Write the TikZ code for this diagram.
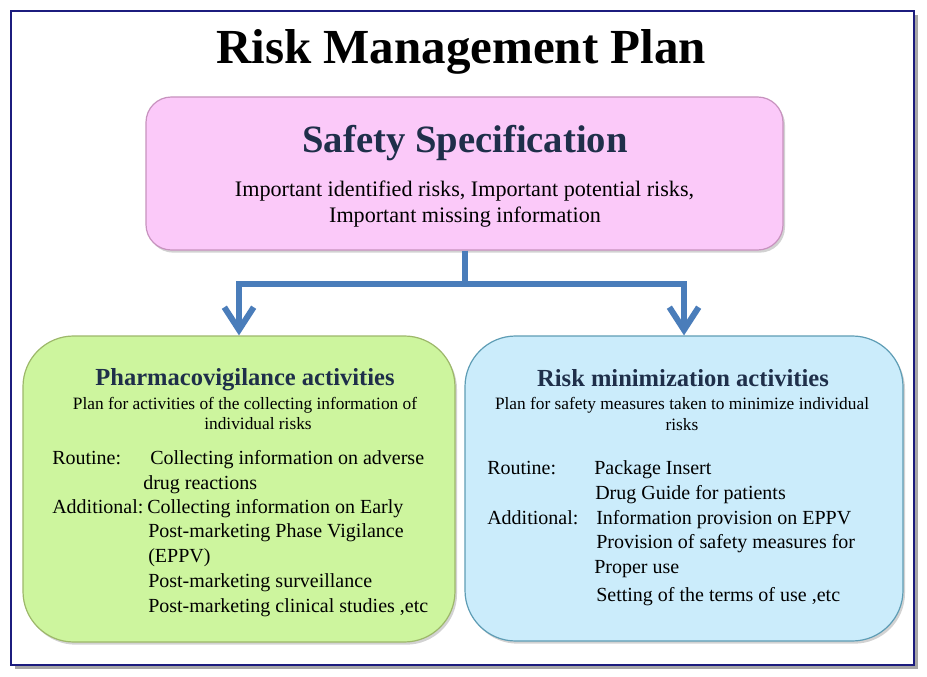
\documentclass[tikz,border=0pt]{standalone}
\usepackage{fontspec}
\setmainfont{Liberation Serif}
\usepackage{xcolor}
\usepackage{tikz}
\usetikzlibrary{arrows.meta,shadows,positioning}
\definecolor{frame}{HTML}{1C1C7E}
\definecolor{ink}{HTML}{1F2F4A}
\definecolor{pinkfill}{HTML}{FBC9F9}
\definecolor{pinkline}{HTML}{C792BE}
\definecolor{greenfill}{HTML}{CDF59E}
\definecolor{greenline}{HTML}{9DB86A}
\definecolor{bluefill}{HTML}{CBECFB}
\definecolor{blueline}{HTML}{5E9DB5}
\definecolor{flow}{HTML}{4A7DBA}
\tikzset{
  box/.style={line width=0.9pt, inner sep=0pt,
    drop shadow={shadow xshift=1.5pt, shadow yshift=-2pt, opacity=0.35}},
  specbox/.style={box, draw=pinkline, fill=pinkfill, rounded corners=19pt,
    minimum width=477.75pt, minimum height=114.75pt},
  pvbox/.style={box, draw=greenline, fill=greenfill, rounded corners=38pt,
    minimum width=324pt, minimum height=229.5pt},
  rmbox/.style={box, draw=blueline, fill=bluefill, rounded corners=38pt,
    minimum width=328.5pt, minimum height=228.75pt},
  link/.style={draw=flow, line width=4.5pt,
    -{Straight Barb[length=17pt 0, width=22pt 0]}},
  main/.style={inner sep=0pt, anchor=base, font=\fontsize{36.75}{40}\selectfont\bfseries},
  head/.style={inner sep=0pt, anchor=base, text=ink, font=\fontsize{29}{32}\selectfont\bfseries},
  sub/.style={inner sep=0pt, anchor=base, text=ink, font=\fontsize{18.4}{20}\selectfont\bfseries},
  body/.style={inner sep=0pt, anchor=base, font=\fontsize{16.6}{19}\selectfont},
  note/.style={inner sep=0pt, anchor=base, font=\fontsize{13}{15}\selectfont},
  item/.style={inner sep=0pt, anchor=base west, font=\fontsize{15}{17}\selectfont},
}

\begin{document}
\begin{tikzpicture}[x=0.75pt, y=-0.75pt]
  \fill[white] (0,0) rectangle (927,677);
  \useasboundingbox (0,0) rectangle (927,677);
  \fill[black!35] (15,15) rectangle (918,669);
  \draw[frame, line width=2.2pt, fill=white] (11,11) rectangle (914,665);

  \node[main] (title) at (461,64) {Risk Management Plan};

  \node[specbox] (spec) at (464.5,173.5) {};
  \node[pvbox] (pv) at (239,489) {};
  \node[rmbox] (rm) at (684,488.5) {};

  \coordinate (fork) at (464.5,284);
  \draw[link] (spec.south) -- (fork) -| (pv.north);
  \draw[link] (fork) -| (rm.north);

  \node[head] (spechead) at (465,153) {Safety Specification};
  \node[body] (spec1) at (464.5,197) {Important identified risks, Important potential risks,};
  \node[body] (spec2) at (465,223) {Important missing information};

  \node[sub] (pvhead) at (245,385) {Pharmacovigilance activities};
  \node[note] (pv1) at (245,409) {Plan for activities of the collecting information of};
  \node[note] (pv2) at (258,429) {individual risks};
  \node[item] (pvr) at (52,464) {Routine:};
  \node[item] (pvr1) at (150,464) {Collecting information on adverse};
  \node[item] (pvr2) at (143,489) {drug reactions};
  \node[item] (pva) at (52,513) {Additional:};
  \node[item] (pva1) at (147,513) {Collecting information on Early};
  \node[item] (pva2) at (148,537) {Post-marketing Phase Vigilance};
  \node[item] (pva3) at (148,562) {(EPPV)};
  \node[item] (pva4) at (148,587) {Post-marketing surveillance};
  \node[item] (pva5) at (148,612) {Post-marketing clinical studies ,etc};

  \node[sub] (rmhead) at (683,386) {Risk minimization activities};
  \node[note] (rm1) at (682,409) {Plan for safety measures taken to minimize individual};
  \node[note] (rm2) at (682,430) {risks};
  \node[item] (rmr) at (487,474) {Routine:};
  \node[item] (rmr1) at (594,474) {Package Insert};
  \node[item] (rmr2) at (595,499) {Drug Guide for patients};
  \node[item] (rma) at (487,524) {Additional:};
  \node[item] (rma1) at (596,524) {Information provision on EPPV};
  \node[item] (rma2) at (596,548) {Provision of safety measures for};
  \node[item] (rma3) at (594,573) {Proper use};
  \node[item] (rma4) at (596,601) {Setting of the terms of use ,etc};
\end{tikzpicture}
\end{document}
